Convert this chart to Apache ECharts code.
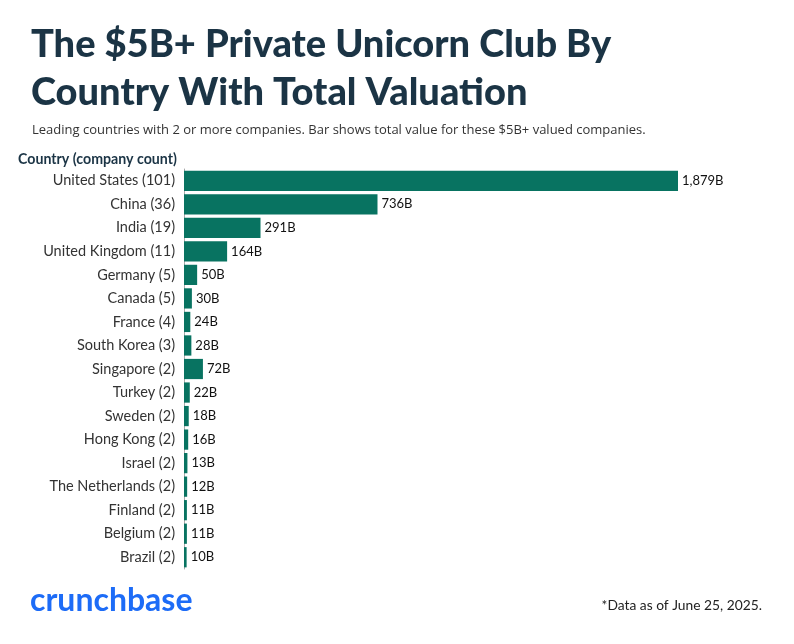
<!DOCTYPE html>
<html><head><meta charset="utf-8">
<script src="https://cdn.jsdelivr.net/npm/echarts@6/dist/echarts.min.js"></script>
<style>html,body{margin:0;padding:0;background:#fff}#c{width:794px;height:644px}</style>
</head><body><div id="c"></div>
<script>
const countries = ["United States (101)","China (36)","India (19)","United Kingdom (11)","Germany (5)","Canada (5)","France (4)","South Korea (3)","Singapore (2)","Turkey (2)","Sweden (2)","Hong Kong (2)","Israel (2)","The Netherlands (2)","Finland (2)","Belgium (2)","Brazil (2)"];
const valuations = [1879,736,291,164,50,30,24,28,72,22,18,16,13,12,11,11,10];

const chart = echarts.init(document.getElementById('c'));
const F = 'Lato, "Noto Sans", sans-serif';
chart.setOption({
  backgroundColor:'#fff',
  animation:false,
  title:[
    {text:'The $5B+ Private Unicorn Club By\nCountry With Total Valuation',left:31,top:21,padding:0,
     textStyle:{fontFamily:F,fontWeight:900,fontSize:38,lineHeight:48,color:'#1b3445'}},
    {text:'Leading countries with 2 or more companies. Bar shows total value for these $5B+ valued companies.',left:32,top:124,padding:0,
     textStyle:{fontFamily:'"Open Sans", sans-serif',fontWeight:'normal',fontSize:13,color:'#333'}},
    {text:'Country (company count)',left:18,top:152,padding:0,
     textStyle:{fontFamily:F,fontWeight:'bold',fontSize:14.2,color:'#1b3445'}},
    {text:'crunchbase',left:30,top:585,padding:0,
     textStyle:{fontFamily:F,fontWeight:'bold',fontSize:32,color:'#1d6cf7'}},
    {text:'*Data as of June 25, 2025.',right:32,top:599,padding:0,
     textStyle:{fontFamily:F,fontWeight:'normal',fontSize:13.8,color:'#222'}}
  ],
  grid:{left:184,right:116,top:169,bottom:75,containLabel:false},
  xAxis:{type:'value',min:0,max:v=>v.max,show:false},
  yAxis:{type:'category',data:countries,inverse:true,
    axisLine:{show:true,lineStyle:{color:'#aaa',width:1}},
    axisTick:{show:false},
    axisLabel:{fontFamily:F,fontSize:14.5,color:'#333',margin:9}},
  series:[{type:'bar',data:valuations,barWidth:'86%',
    itemStyle:{color:'#087361'},
    label:{show:true,position:'right',distance:4,fontFamily:F,fontSize:13,color:'#111',
      formatter:p=>p.value.toLocaleString('en-US')+'B'}}]
});
</script></body></html>
